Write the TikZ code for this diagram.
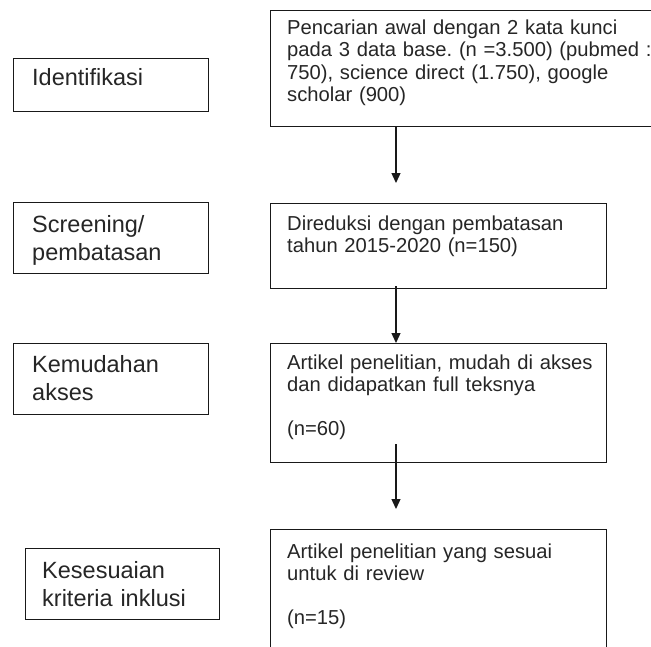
\documentclass[tikz,border=0pt]{standalone}
\usepackage{fontspec}
\setmainfont{Liberation Sans}
\usetikzlibrary{arrows.meta}
\frenchspacing
\begin{document}
\begin{tikzpicture}[x=1pt,y=-1pt,
  box/.style={draw=black!90, line width=1.3pt, rectangle, inner sep=0pt, anchor=north west},
  lab/.style={anchor=base west, inner sep=0pt, font=\fontsize{23.5}{28}\selectfont, align=left, text width=190pt, text=black!85},
  txt/.style={anchor=base west, inner sep=0pt, font=\fontsize{20.2}{22.5}\selectfont\frenchspacing, align=left, text width=420pt, text=black!85},
  arr/.style={line width=1.3pt, draw=black!90, -{Triangle[width=9pt,length=10pt]}}]
\useasboundingbox (0,0) rectangle (651,646);
\fill[white] (0,0) rectangle (651,646);
% boxes
\node[box, minimum width=195pt, minimum height=53pt] (b1) at (13,58) {};
\node[box, minimum width=400pt, minimum height=116pt] (t1) at (270,10) {};
\node[box, minimum width=195pt, minimum height=71pt] (b2) at (13,202) {};
\node[box, minimum width=336pt, minimum height=85pt] (t2) at (270,203) {};
\node[box, minimum width=195pt, minimum height=71pt] (b3) at (13,343) {};
\node[box, minimum width=336pt, minimum height=119pt] (t3) at (270,343) {};
\node[box, minimum width=194pt, minimum height=71pt] (b4) at (25,548) {};
\node[box, minimum width=336pt, minimum height=140pt] (t4) at (270,529) {};
% texts
\node[lab] (l1) at ([shift={(19,27)}]b1.north west) {Identifikasi};
\node[lab] (l2) at ([shift={(19,30)}]b2.north west) {Screening/\\pembatasan};
\node[lab] (l3) at ([shift={(19,29)}]b3.north west) {Kemudahan\\akses};
\node[lab] (l4) at ([shift={(17,30)}]b4.north west) {Kesesuaian\\kriteria inklusi};
\node[txt] (r1) at ([shift={(17,24)}]t1.north west) {Pencarian awal dengan 2 kata kunci\\pada 3 data base. (n =3.500) (pubmed :\\750), science direct (1.750), google\\scholar (900)};
\node[txt] (r2) at ([shift={(17,27)}]t2.north west) {Direduksi dengan pembatasan\\tahun 2015-2020 (n=150)};
\node[txt] (r3) at ([shift={(17,26)}]t3.north west) {Artikel penelitian, mudah di akses\\dan didapatkan full teksnya\\[21pt](n=60)};
\node[txt] (r4) at ([shift={(17,29)}]t4.north west) {Artikel penelitian yang sesuai\\untuk di review\\[21pt](n=15)};
% arrows
\coordinate (ax) at (396,0);
\coordinate (e1) at (396,183);
\coordinate (e3) at (396,509);
\draw[arr] (t1.south -| ax) -- (e1);
\draw[arr] ([yshift=3pt]t2.south -| ax) -- (t3.north -| ax);
\draw[arr] ([yshift=19pt]t3.south -| ax) -- (e3);
\end{tikzpicture}
\end{document}
